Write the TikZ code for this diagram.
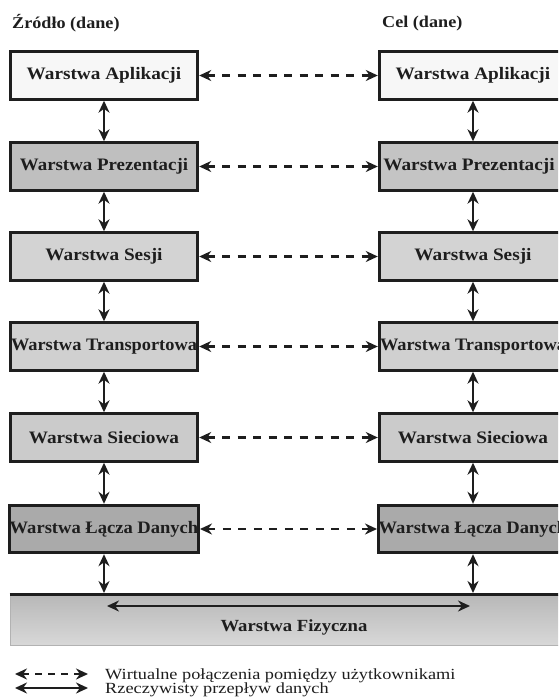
\documentclass[tikz,border=0pt]{standalone}
\usepackage{fontspec}
\setmainfont{Liberation Serif}
\usetikzlibrary{arrows.meta}
\newcommand\hstretch[2]{\scalebox{#1}[1]{#2}}
\definecolor{cApl}{HTML}{F7F7F7}
\definecolor{cPrez}{HTML}{BFBFBF}
\definecolor{cPrezR}{HTML}{C4C4C4}
\definecolor{cSes}{HTML}{D3D3D3}
\definecolor{cTra}{HTML}{D0D0D0}
\definecolor{cSie}{HTML}{CBCBCB}
\definecolor{cLac}{HTML}{AAAAAA}
\definecolor{cFizTop}{HTML}{B8B8B8}
\definecolor{cFizBot}{HTML}{D8D8D8}
\definecolor{ink}{HTML}{1E1E1E}
\begin{document}
\begin{tikzpicture}[x=1pt,y=-1pt,
  layer/.style={minimum width=187pt, minimum height=47pt,
    inner sep=0pt, font=\bfseries\fontsize{17.5}{20}\selectfont, text=ink},
  border/.style={draw=ink, line width=3pt},
  title/.style={font=\bfseries\fontsize{16.5}{18}\selectfont, text=ink, inner sep=0pt, anchor=base west},
  realarr/.style={draw=ink, line width=2.4pt, {Stealth[length=12pt,width=11pt]}-{Stealth[length=12pt,width=11pt]}},
  virtarr/.style={draw=ink, line width=2.3pt, dash pattern=on 8pt off 7.5pt, {Stealth[length=12pt,width=11pt]}-{Stealth[length=12pt,width=11pt]}},
  legtext/.style={font=\fontsize{15.5}{16}\selectfont, text=ink, inner sep=0pt, anchor=base west}
]
\useasboundingbox (0,0) rectangle (558,699);
\clip (0,0) rectangle (558,699);

% titles
\node[title] (tsrc) at (12,28) {\hstretch{1.1}{Źródło (dane)}};
\node[title] (tdst) at (382,27) {\hstretch{1.1}{Cel (dane)}};

% left stack
\node[layer, fill=cApl]  (L1) at (104,75.5)  {\hstretch{1.1}{Warstwa Aplikacji}};
\node[layer, fill=cPrez] (L2) at (104,166.5) {\hstretch{1.08}{Warstwa Prezentacji}};
\node[layer, fill=cSes]  (L3) at (104,256.5) {\hstretch{1.1}{Warstwa Sesji}};
\node[layer, fill=cTra]  (L4) at (104,346.5) {\hstretch{1.05}{Warstwa Transportowa}};
\node[layer, fill=cSie]  (L5) at (104,437.5) {\hstretch{1.1}{Warstwa Sieciowa}};
\node[layer, fill=cLac]  (L6) at (104,529)   {\hstretch{1.06}{Warstwa Łącza Danych}};

% right stack
\node[layer, fill=cApl]   (R1) at (473,75.5)  {\hstretch{1.1}{Warstwa Aplikacji}};
\node[layer, fill=cPrezR] (R2) at (473,166.5) {\raisebox{4pt}{\hspace*{-8pt}\hstretch{1.1}{Warstwa Prezentacji}}};
\node[layer, fill=cSes]   (R3) at (473,256.5) {\hstretch{1.1}{Warstwa Sesji}};
\node[layer, fill=cTra]   (R4) at (473,346.5) {\hstretch{1.05}{Warstwa Transportowa}};
\node[layer, fill=cSie]   (R5) at (473,437.5) {\hstretch{1.1}{Warstwa Sieciowa}};
\node[layer, fill=cLac]   (R6) at (473,529)   {\hstretch{1.06}{Warstwa Łącza Danych}};

\foreach \n in {L1,L2,L3,L4,L5,L6,R1,R2,R3,R4,R5,R6}{
  \draw[border] (\n.south west) rectangle (\n.north east);
}

% physical layer
\node[draw=gray!60, line width=1pt, top color=cFizTop, bottom color=cFizBot,
  minimum width=560pt, minimum height=50pt, inner sep=0pt] (phys) at (290,620) {};
\draw[ink, line width=3pt] (phys.north west) -- (phys.north east);
\node[font=\bfseries\fontsize{17}{18}\selectfont, text=ink, inner sep=0pt] (fiz) at (294,627) {\hstretch{1.1}{Warstwa Fizyczna}};
\coordinate (pa) at (107,606);
\coordinate (pb) at (470,606);
\draw[realarr] (pa) -- (pb);

% vertical real arrows
\foreach \a/\b in {L1/L2,L2/L3,L3/L4,L4/L5,L5/L6,R1/R2,R2/R3,R3/R4,R4/R5,R5/R6}{
  \draw[realarr] ([yshift=-1.5pt]\a.south) -- ([yshift=1.5pt]\b.north);
}
\draw[realarr] ([yshift=-1.5pt]L6.south) -- ([yshift=1.5pt]L6.south |- phys.north);
\draw[realarr] ([yshift=-1.5pt]R6.south) -- ([yshift=1.5pt]R6.south |- phys.north);

% virtual dashed arrows
\foreach \i in {1,...,6}{
  \draw[virtarr] ([xshift=1.5pt]L\i.east) -- ([xshift=-1.5pt]R\i.west);
}

% legend
\coordinate (v1) at (15,674);
\coordinate (v2) at (88,674);
\coordinate (r1) at (15,688);
\coordinate (r2) at (88,688);
\draw[virtarr, line width=2.1pt, dash pattern=on 7pt off 6pt] (v1) -- (v2);
\draw[realarr, line width=2.1pt] (r1) -- (r2);
\node[legtext] (lv) at (105,679) {\hstretch{1.18}{Wirtualne połączenia pomiędzy użytkownikami}};
\node[legtext] (lr) at (105,693) {\hstretch{1.18}{Rzeczywisty przepływ danych}};
\end{tikzpicture}
\end{document}
